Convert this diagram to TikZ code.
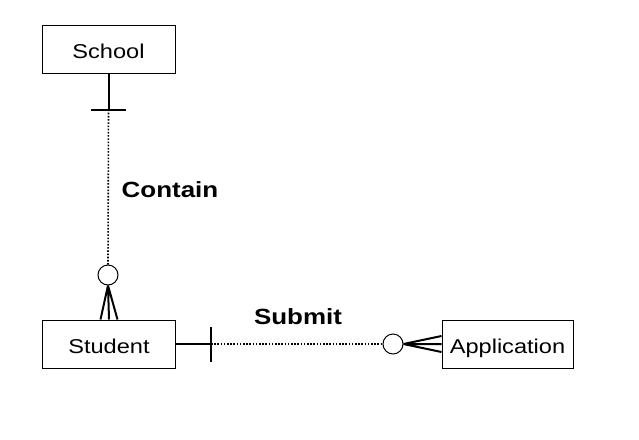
\documentclass[tikz,border=0pt]{standalone}
\usepackage{fontspec}
\setmainfont[FakeStretch=1.18]{Liberation Sans}
\usetikzlibrary{positioning}

\begin{document}
\begin{tikzpicture}[x=1pt, y=-1pt,
	entity/.style={draw, line width=1pt, minimum width=133pt, minimum height=48pt, inner sep=0pt, text height=18pt, text depth=0pt, font=\fontsize{20}{24}\selectfont},
	rel/.style={font=\bfseries\fontsize{22}{26}\selectfont},
	opt/.style={draw, circle, line width=1pt, minimum size=20pt, inner sep=0pt, fill=white},
	link/.style={line width=2pt},
	loose/.style={line width=1.6pt, dash pattern=on 1.6pt off 1.6pt}]
	\useasboundingbox (0,0) rectangle (639,439);
	\node[entity] (school) at (108.5,49) {School};
	\node[entity] (student) at (109,344) {Student};
	\node[entity, minimum width=131pt] (application) at (507.5,344) {Application};
	\node[rel] (contain) at (170,190) {Contain};
	\node[rel] (submit) at (298,317) {Submit};
	% Contain
	\coordinate (schoolbar) at ([yshift=-36pt]school.south);
	\node[opt] (studentopt) at (108,275) {};
	\draw[link] (school.south) -- (schoolbar) ([xshift=-17.5pt]schoolbar) -- ([xshift=17.5pt]schoolbar);
	\draw[loose] (schoolbar) -- (studentopt.north);
	\draw[link] (studentopt.south) -- ([xshift=-8.5pt]student.north) (studentopt.south) -- (student.north) (studentopt.south) -- ([xshift=8.5pt]student.north);
	% Submit
	\coordinate (studentbar) at ([xshift=35pt]student.east);
	\node[opt] (applicationopt) at (393,344) {};
	\draw[link] (student.east) -- (studentbar) ([yshift=-17.5pt]studentbar) -- ([yshift=17.5pt]studentbar);
	\draw[loose] (studentbar) -- (applicationopt.west);
	\draw[link] (applicationopt.east) -- ([yshift=8pt]application.west) (applicationopt.east) -- (application.west) (applicationopt.east) -- ([yshift=-8pt]application.west);
\end{tikzpicture}
\end{document}
